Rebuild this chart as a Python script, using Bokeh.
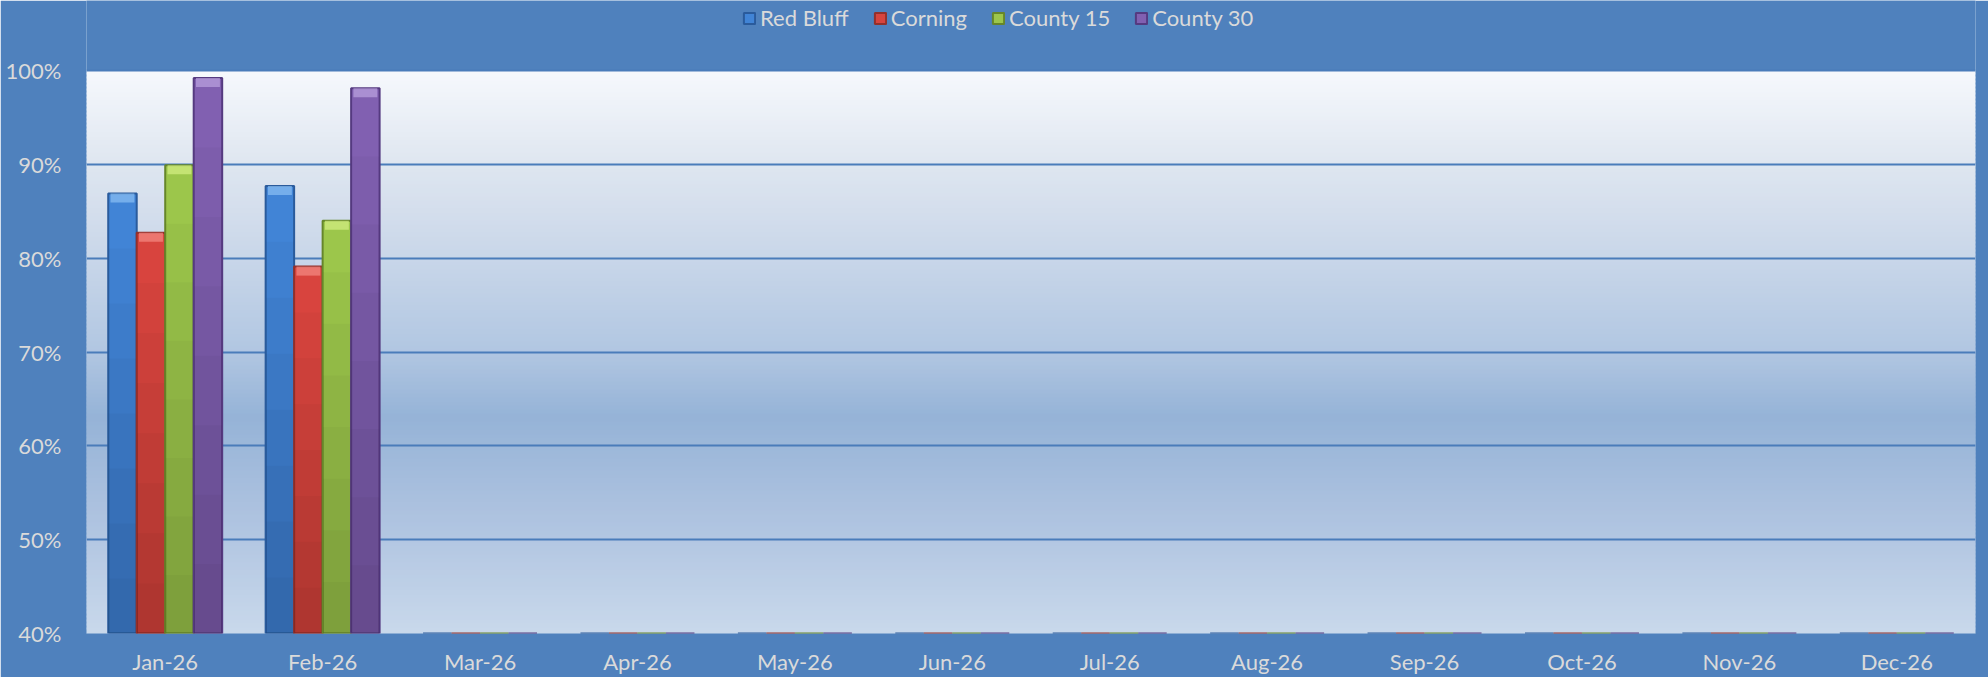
import numpy as np
from bokeh.plotting import figure
from bokeh.models import (ColumnDataSource, FactorRange, Range1d, FixedTicker,
                          NumeralTickFormatter, Legend, LegendItem)
from bokeh.transform import dodge
from bokeh.embed import file_html
from bokeh.resources import INLINE

# ---------------- data ----------------
months = ["Jan-26", "Feb-26", "Mar-26", "Apr-26", "May-26", "Jun-26",
          "Jul-26", "Aug-26", "Sep-26", "Oct-26", "Nov-26", "Dec-26"]
series_names = ["Red Bluff", "Corning", "County 15", "County 30"]
red_bluff = [0.869, 0.877, 0, 0, 0, 0, 0, 0, 0, 0, 0, 0]
corning   = [0.827, 0.791, 0, 0, 0, 0, 0, 0, 0, 0, 0, 0]
county_15 = [0.899, 0.840, 0, 0, 0, 0, 0, 0, 0, 0, 0, 0]
county_30 = [0.992, 0.981, 0, 0, 0, 0, 0, 0, 0, 0, 0, 0]
y_ticks = [0.4, 0.5, 0.6, 0.7, 0.8, 0.9, 1.0]

# ---------------- style ----------------
BG = "#4f81bd"
TXT = "#dadada"
FONT = "Lato"
fills = ["#4184d6", "#d8443e", "#9cc64b", "#8160b1"]
caps = ["#8cc0f4", "#f58c84", "#d6f084", "#bca4e0"]
edges = ["#2a5b9c", "#93302b", "#66862a", "#553a80"]

ymin, ymax = y_ticks[0], y_ticks[-1]
BL, BR, BB = 86, 13, 44
FW = 1889
FH = 633            # frame spans from the page top down to the plot floor
TOP_PAD = 70        # pixels above the 100% line (legend lives here)
grid_px = FH - TOP_PAD
y_end = ymax + (ymax - ymin) * TOP_PAD / grid_px
px = (ymax - ymin) / grid_px   # data units per pixel

p = figure(frame_width=FW, frame_height=FH, x_range=FactorRange(*months),
           y_range=Range1d(ymin, y_end), output_backend="svg",
           toolbar_location=None, min_border_left=BL, min_border_right=BR,
           min_border_top=0, min_border_bottom=BB)
p.background_fill_color = BG
p.border_fill_color = BG
p.outline_line_color = None

# plot-area gradient (style only)
stops_pos = [0.0, 0.17, 0.5, 0.62, 0.8, 1.0]  # fraction from top
stops_col = ["#f7f9fd", "#dfe6f0", "#b2c7e2", "#95b3d7", "#aec3e0", "#c8d8eb"]
def hex2rgb(h):
    return np.array([int(h[i:i + 2], 16) for i in (1, 3, 5)], dtype=float)
stops_rgb = np.array([hex2rgb(c) for c in stops_col])
nb = 140
edges_y = np.linspace(ymax, ymin, nb + 1)
step = (ymax - ymin) / nb
g_cols = []
for i in range(nb):
    f = (i + 0.5) / nb
    rgb = [np.interp(f, stops_pos, stops_rgb[:, k]) for k in range(3)]
    g_cols.append("#%02x%02x%02x" % tuple(int(round(v)) for v in rgb))
y1s = np.minimum(edges_y[:-1] + step * 0.6, ymax)
gsrc = ColumnDataSource(dict(y0=edges_y[1:], y1=y1s, c=g_cols))
gr = p.hstrip(y0="y0", y1="y1", fill_color="c", line_color=None, source=gsrc)
gr.level = "image"

# bars
vals = [red_bluff, corning, county_15, county_30]
NSH = 8
data = dict(month=months)
for i, v in enumerate(vals):
    top = np.maximum(np.array(v, dtype=float), ymin)
    data[f"s{i}"] = top
    data[f"c{i}"] = top - 9 * px
    for k in range(1, NSH):
        data[f"h{i}_{k}"] = ymin + (top - ymin) * k / NSH
src = ColumnDataSource(data)
bw = 0.181
offsets = [-1.5 * bw, -0.5 * bw, 0.5 * bw, 1.5 * bw]
items = []
for i, name in enumerate(series_names):
    xs = dodge("month", offsets[i], range=p.x_range)
    r = p.vbar(x=xs, top=f"s{i}", bottom=ymin, width=bw, source=src,
               fill_color=fills[i], line_color=edges[i], line_width=2)
    # darker toward the bottom
    for k in range(1, NSH):
        p.vbar(x=xs, top=f"h{i}_{k}", bottom=ymin, width=bw * 0.97, source=src,
               fill_color="black", fill_alpha=0.028, line_color=None)
    # light bevel cap
    p.vbar(x=xs, top=f"s{i}", bottom=f"c{i}", width=bw * 0.84, source=src,
           fill_color=caps[i], fill_alpha=0.7, line_color=None)
    items.append(LegendItem(label=name, renderers=[r]))

# axes & grid
p.yaxis.ticker = FixedTicker(ticks=y_ticks)
p.yaxis.formatter = NumeralTickFormatter(format="0%")
p.yaxis.axis_line_color = None
p.yaxis.major_tick_line_color = None
p.yaxis.minor_tick_line_color = None
p.yaxis.major_label_standoff = 19
p.xaxis.axis_line_color = None
p.xaxis.major_tick_line_color = None
p.xaxis.major_label_standoff = 8
p.xaxis.major_label_text_font_size = "22px"
p.yaxis.major_label_text_font_size = "22px"
for ax in (p.xaxis, p.yaxis):
    ax.major_label_text_color = TXT
    ax.major_label_text_font = FONT
p.xgrid.grid_line_color = None
p.ygrid.grid_line_color = "#4a7cba"
p.ygrid.grid_line_width = 2

legend = Legend(items=items, orientation="horizontal", location=(656, FH - 31),
                label_text_color=TXT, label_text_font=FONT, label_text_font_size="22px",
                glyph_width=14, glyph_height=14, spacing=24, label_standoff=4,
                background_fill_alpha=0, border_line_color=None, margin=0, padding=4)
p.add_layout(legend, "center")

open("out.html", "w").write(file_html(p, INLINE))
